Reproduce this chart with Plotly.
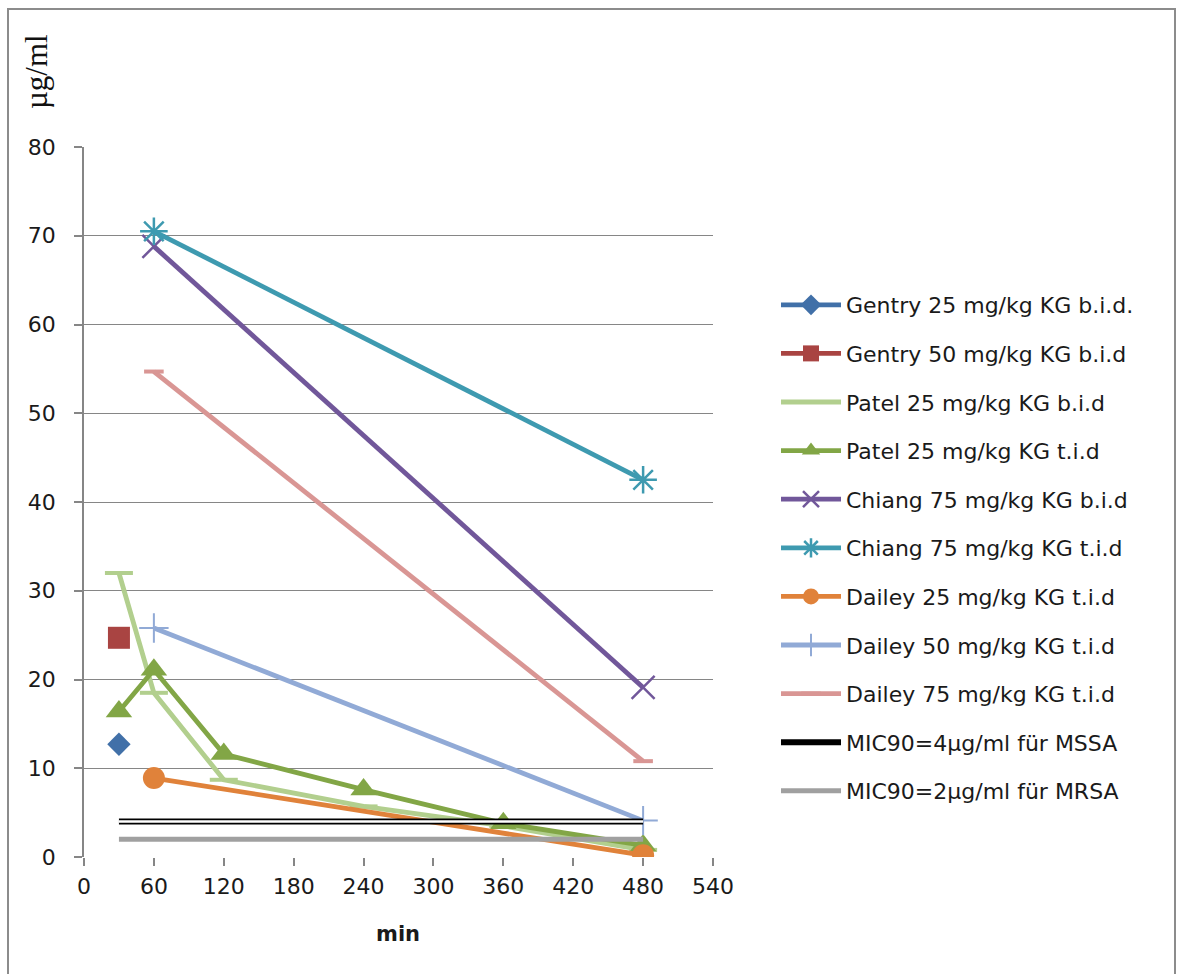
import plotly.graph_objects as go

# ---- data ----
gentry25_x = [30]
gentry25_y = [12.7]
gentry50_x = [30]
gentry50_y = [24.7]
patel_bid_x = [30, 60, 120, 240, 360, 480]
patel_bid_y = [32.0, 18.5, 8.7, 5.7, 3.5, 0.8]
patel_tid_x = [30, 60, 120, 240, 360, 480]
patel_tid_y = [16.4, 21.1, 11.6, 7.6, 3.8, 1.3]
chiang_bid_x = [60, 480]
chiang_bid_y = [68.8, 19.1]
chiang_tid_x = [60, 480]
chiang_tid_y = [70.5, 42.5]
dailey25_x = [60, 480]
dailey25_y = [8.9, 0.2]
dailey50_x = [60, 480]
dailey50_y = [25.8, 4.1]
dailey75_x = [60, 480]
dailey75_y = [54.7, 10.8]
mic_x = [30, 480]
mic_mssa_y = [4, 4]
mic_mrsa_y = [2, 2]

x_ticks = [0, 60, 120, 180, 240, 300, 360, 420, 480, 540]
y_ticks = [0, 10, 20, 30, 40, 50, 60, 70, 80]

FONT = "DejaVu Sans"
LW = 4.8
TXT = "#1a1a1a"

fig = go.Figure()

def add(name, x, y, color, symbol=None, size=18, lw=LW, mline=None, show=True, group=None):
    mode = "lines+markers" if symbol else "lines"
    marker = dict(symbol=symbol, size=size, color=color) if symbol else None
    if marker is not None and mline:
        marker["line"] = dict(color=color, width=mline)
    fig.add_trace(go.Scatter(
        x=x, y=y, name=name, mode=mode,
        line=dict(color=color, width=lw),
        marker=marker, showlegend=show,
        legendgroup=group or name,
    ))

add("Gentry 25 mg/kg KG b.i.d.", gentry25_x, gentry25_y, "#4170A8", "diamond", 18)
add("Gentry 50 mg/kg KG b.i.d", gentry50_x, gentry50_y, "#A94442", "square", 22)
add("Patel 25 mg/kg KG b.i.d", patel_bid_x, patel_bid_y, "#B2CF8E", "line-ew", 20, mline=4)
add("Patel 25 mg/kg KG t.i.d", patel_tid_x, patel_tid_y, "#82A646", "triangle-up", 23)
add("Chiang 75 mg/kg KG b.i.d", chiang_bid_x, chiang_bid_y, "#71579A", "x-thin", 23, mline=2.5)
add("Chiang 75 mg/kg KG t.i.d", chiang_tid_x, chiang_tid_y, "#3E9AB0", "asterisk", 23, mline=2.5)
add("Dailey 25 mg/kg KG t.i.d", dailey25_x, dailey25_y, "#E0823A", "circle", 22)
add("Dailey 50 mg/kg KG t.i.d", dailey50_x, dailey50_y, "#91AAD6", "cross-thin", 21, mline=2)
add("Dailey 75 mg/kg KG t.i.d", dailey75_x, dailey75_y, "#D99694", "line-ew", 14, mline=4)
add("MIC90=4µg/ml für MSSA", mic_x, mic_mssa_y, "#000000", lw=6)
fig.add_trace(go.Scatter(x=mic_x, y=mic_mssa_y, mode="lines",
                         line=dict(color="white", width=2.5), showlegend=False,
                         legendgroup="MIC90=4µg/ml für MSSA", hoverinfo="skip"))
add("MIC90=2µg/ml für MRSA", mic_x, mic_mrsa_y, "#A0A0A0", lw=5)

W, H = 1182, 974
L, R, T, B = 84, 713, 147, 857
pw, ph = R - L, B - T

def px(xp):
    return (xp - L) / pw

def py(yp):
    return (B - yp) / ph

fig.update_layout(
    width=W, height=H,
    margin=dict(l=L, r=W - R, t=T, b=H - B, pad=0),
    paper_bgcolor="white", plot_bgcolor="white",
    font=dict(family=FONT, size=22, color=TXT),
    showlegend=True,
    legend=dict(
        x=px(776), y=py(284), xanchor="left", yanchor="top",
        font=dict(family=FONT, size=22, color=TXT),
        tracegroupgap=17, itemwidth=60, bgcolor="rgba(0,0,0,0)",
    ),
    xaxis=dict(
        range=[0, 540], tickvals=x_ticks, ticktext=[str(v) for v in x_ticks],
        showgrid=False, zeroline=False, showline=False,
        ticks="outside", ticklen=8, tickcolor="#868686", tickwidth=1.5,
        ticklabelstandoff=2,
        tickfont=dict(family=FONT, size=22, color=TXT),
        fixedrange=True,
    ),
    yaxis=dict(
        range=[0, 80], tickvals=y_ticks, ticktext=[str(v) for v in y_ticks],
        showgrid=True, gridcolor="#868686", gridwidth=1.2,
        zeroline=False, showline=True, linecolor="#868686", linewidth=1.5,
        ticks="outside", ticklen=8, tickcolor="#868686", tickwidth=1.5,
        ticklabelstandoff=14,
        tickfont=dict(family=FONT, size=22, color=TXT),
        fixedrange=True,
    ),
    annotations=[
        dict(text="µg/ml", x=px(37), y=py(72), xref="paper", yref="paper",
             xanchor="center", yanchor="middle",
             textangle=-90, showarrow=False,
             font=dict(family="Liberation Serif", size=31, color="#111111")),
        dict(text="<b>min</b>", x=px(398), y=py(934), xref="paper", yref="paper",
             xanchor="center", yanchor="middle",
             showarrow=False, font=dict(family=FONT, size=21, color=TXT)),
    ],
    shapes=[
        dict(type="rect", xref="paper", yref="paper",
             x0=px(8), x1=px(1175), y0=py(990), y1=py(9),
             line=dict(color="#8C8C8C", width=2), layer="below"),
    ],
)

fig.write_html("out.html")
